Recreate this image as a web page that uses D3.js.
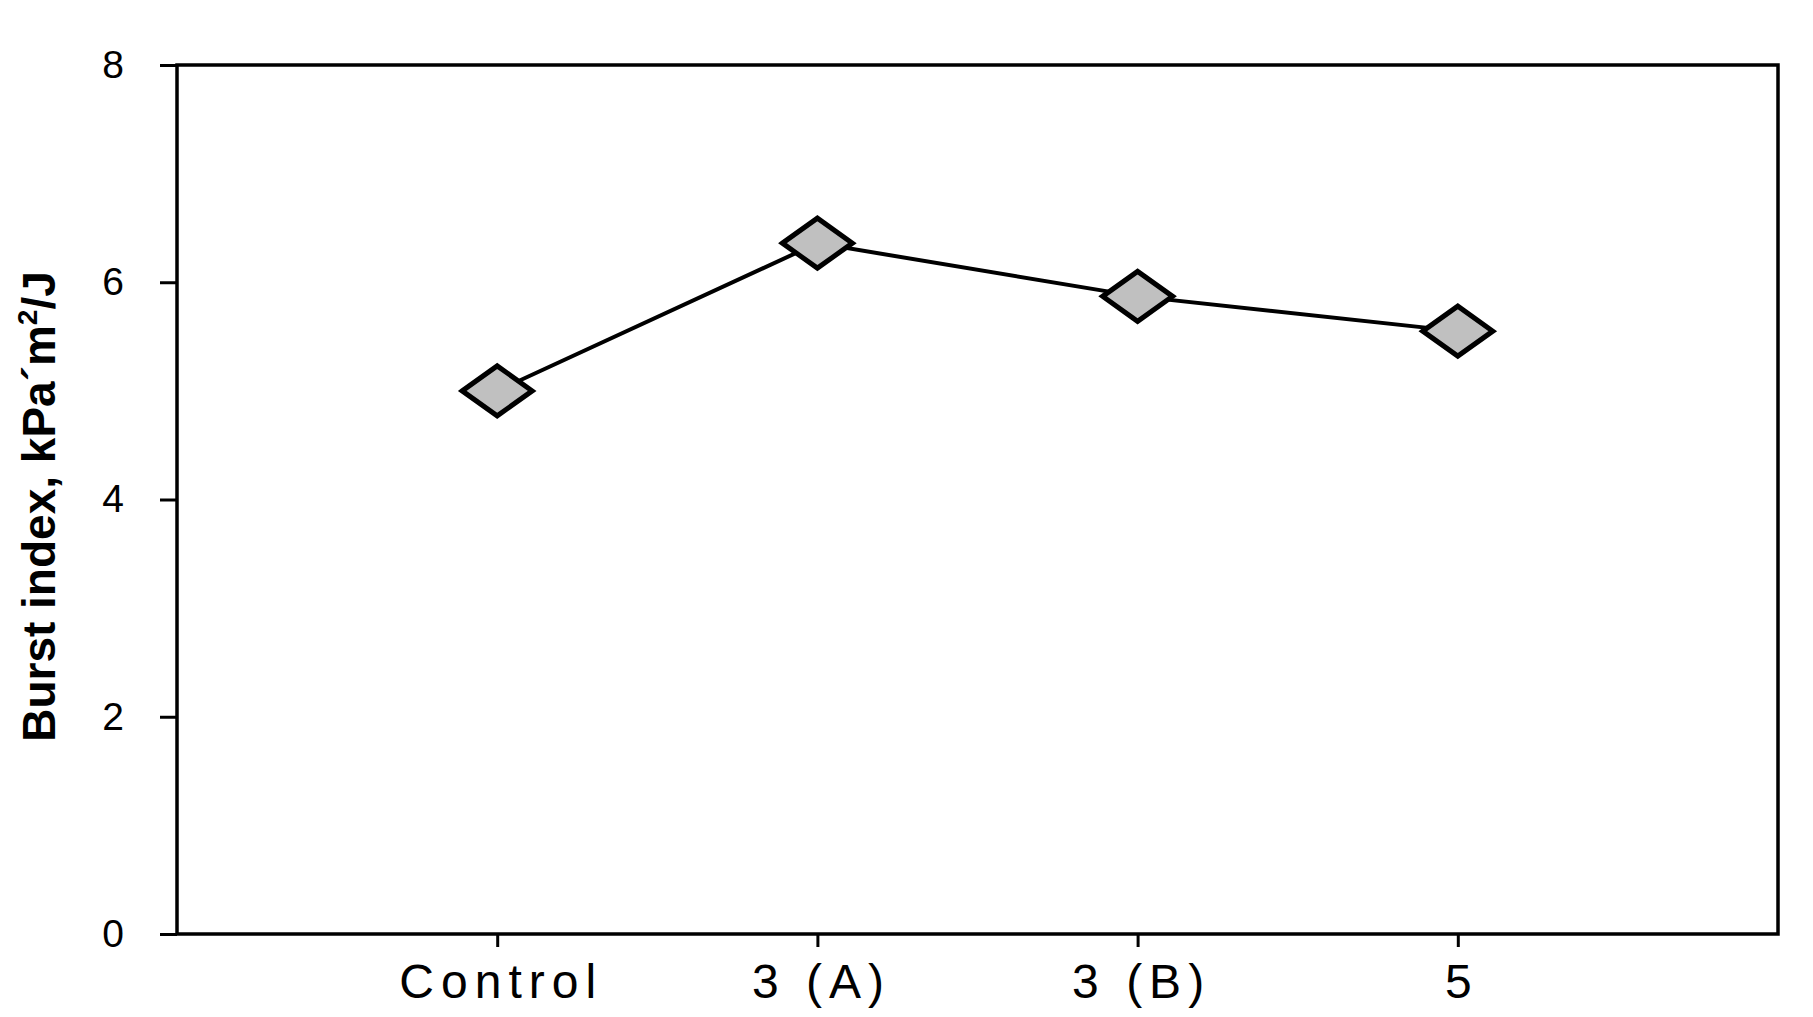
<!DOCTYPE html>
<html>
<head>
<meta charset="utf-8">
<script src="https://cdn.jsdelivr.net/npm/d3@7"></script>
<style>
  body { margin: 0; background: #fff; }
  text { font-family: "Liberation Sans", Arial, sans-serif; fill: #000; }
</style>
</head>
<body>
<svg width="1813" height="1017"></svg>
<script>
// data
var categories = ["Control", "3 (A)", "3 (B)", "5"];
var burstIndex = [5.0, 6.36, 5.87, 5.55];
var yTicks = [0, 2, 4, 6, 8];

var svg = d3.select("svg"),
    margin = {top: 65, right: 35, bottom: 83, left: 177},
    width = +svg.attr("width") - margin.left - margin.right,
    height = +svg.attr("height") - margin.top - margin.bottom;

var g = svg.append("g")
    .attr("transform", "translate(" + margin.left + "," + margin.top + ")");

// categories sit at 1..4 of a 0..5 range
var x = d3.scalePoint().domain(categories).range([0, width]).padding(1);
var y = d3.scaleLinear().domain([0, 8]).range([height, 0]);

// frame
g.append("rect")
  .attr("width", width)
  .attr("height", height)
  .attr("fill", "none")
  .attr("stroke", "#000")
  .attr("stroke-width", 3.5);

// y axis
var yAxis = g.append("g")
  .call(d3.axisLeft(y).tickValues(yTicks).tickSize(17).tickPadding(36));
yAxis.select(".domain").remove();
yAxis.selectAll("line").attr("stroke", "#000").attr("stroke-width", 3);
yAxis.selectAll("text")
  .attr("font-size", "39px")
  .attr("font-family", "Liberation Sans, Arial, sans-serif");

// x axis
var xAxis = g.append("g")
  .attr("transform", "translate(0," + height + ")")
  .call(d3.axisBottom(x).tickSize(13));
xAxis.select(".domain").remove();
xAxis.selectAll("line").attr("stroke", "#000").attr("stroke-width", 3);
xAxis.selectAll("text")
  .attr("y", 64)
  .attr("dy", 0)
  .attr("dx", 3.5)
  .attr("font-size", "48px")
  .attr("letter-spacing", "7px")
  .attr("font-family", "Liberation Sans, Arial, sans-serif");

// y axis title
var title = svg.append("text")
  .attr("transform", "translate(55," + (margin.top + height / 2 + 7) + ") rotate(-90)")
  .attr("text-anchor", "middle")
  .attr("font-size", "46px")
  .attr("font-weight", "bold");
title.append("tspan").text("Burst index, kPa\u00b4m");
title.append("tspan").attr("font-size", "28px").attr("dy", "-18").text("2");
title.append("tspan").attr("dy", "18").text("/J");

// line
var pts = categories.map(function(c, i) { return {cat: c, v: burstIndex[i]}; });
g.append("path")
  .datum(pts)
  .attr("fill", "none")
  .attr("stroke", "#000")
  .attr("stroke-width", 4)
  .attr("d", d3.line()
    .x(function(d) { return x(d.cat); })
    .y(function(d) { return y(d.v); }));

// diamonds
var hw = 35, hh = 25;
g.selectAll(".pt")
  .data(pts)
  .enter().append("path")
  .attr("class", "pt")
  .attr("transform", function(d) { return "translate(" + x(d.cat) + "," + y(d.v) + ")"; })
  .attr("d", "M" + (-hw) + ",0L0," + (-hh) + "L" + hw + ",0L0," + hh + "Z")
  .attr("fill", "#c0c0c0")
  .attr("stroke", "#000")
  .attr("stroke-width", 5)
  .attr("stroke-linejoin", "miter");
</script>
</body>
</html>
